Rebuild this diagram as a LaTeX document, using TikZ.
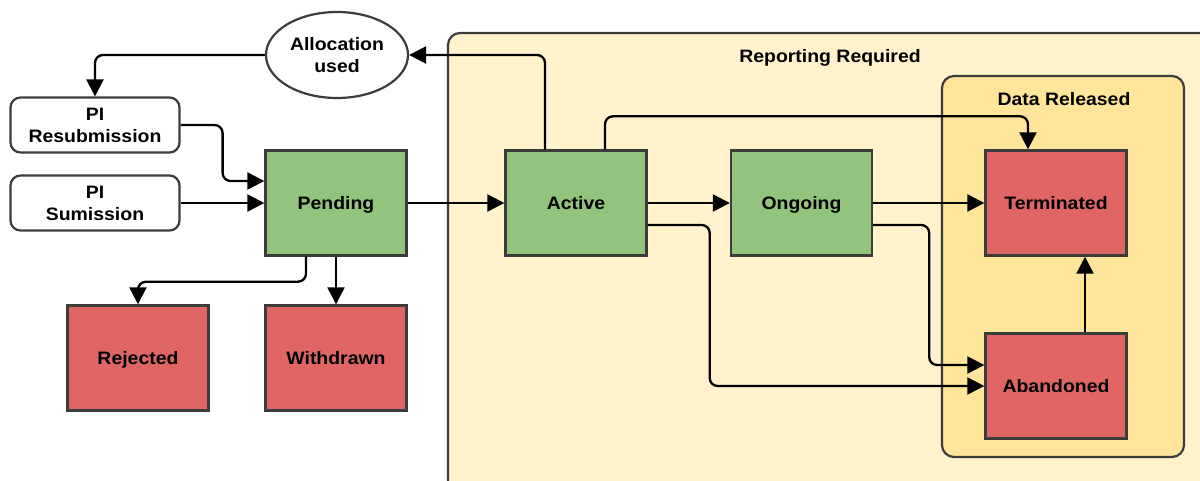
\documentclass[tikz,border=0pt]{standalone}
\usepackage{fontspec}
\setmainfont{Liberation Sans}[FakeStretch=1.08]
\usetikzlibrary{arrows.meta,shapes.geometric}
\definecolor{gfill}{HTML}{93C47D}
\definecolor{rfill}{HTML}{E06666}
\definecolor{repfill}{HTML}{FFF2CC}
\definecolor{datafill}{HTML}{FFE599}
\definecolor{edgegray}{HTML}{3C3C3C}
\begin{document}
\begin{tikzpicture}[x=1pt,y=-1pt,
  every node/.style={font=\fontsize{18}{22}\selectfont\bfseries},
  oneline/.style={text height=13pt,text depth=0pt},
  statebox/.style={oneline,draw=edgegray,line width=2.4pt,minimum width=141pt,minimum height=105pt,inner sep=0pt},
  goodbox/.style={statebox,fill=gfill},
  badbox/.style={statebox,fill=rfill},
  subbox/.style={draw=edgegray,line width=2.2pt,fill=white,rounded corners=10pt,minimum width=169pt,minimum height=55pt,align=center,inner sep=0pt},
  arr/.style={draw=black,line width=2.3pt,rounded corners=8pt,-{Triangle[length=17pt,width=17pt]}},
  group/.style={draw=edgegray,line width=2.2pt,rounded corners=12pt}
]
\useasboundingbox (0,0) rectangle (1200,480);
\begin{scope}
\clip (0,0) rectangle (1200,480);
\fill[white] (0,0) rectangle (1200,480);
\draw[group,fill=repfill] (448,33) rectangle (1220,500);
\end{scope}
\draw[group,fill=datafill] (942,76) rectangle (1184,457);
\node[oneline] (reptitle) at (830,56) {Reporting Required};
\node[oneline] (datatitle) at (1064,99) {Data Released};

\node[draw=edgegray,line width=2.2pt,fill=white,ellipse,minimum width=142pt,minimum height=86pt,align=center,inner sep=0pt] (alloc) at (337,55) {Allocation\\used};
\node[subbox] (resub) at (95,125) {PI\\Resubmission};
\node[subbox] (sub) at (95,203) {PI\\Sumission};

\node[goodbox] (pending) at (336,203) {Pending};
\node[goodbox] (active) at (576,203) {Active};
\node[goodbox] (ongoing) at (801.5,203) {Ongoing};
\node[badbox] (terminated) at (1056,203) {Terminated};
\node[badbox] (abandoned) at (1056,386) {Abandoned};
\node[badbox] (rejected) at (138,358) {Rejected};
\node[badbox] (withdrawn) at (336,358) {Withdrawn};

\draw[arr] ([xshift=-31pt]active.north) |- (alloc.east);
\draw[arr] (alloc.west) -| (resub.north);
\draw[arr] (resub.east) -- ++(42,0) |- ([yshift=22pt]pending.west);
\draw[arr] (sub.east) -- (pending.west);
\draw[arr] (pending.east) -- (active.west);
\draw[arr] (active.east) -- (ongoing.west);
\draw[arr] (ongoing.east) -- (terminated.west);
\draw[arr] ([xshift=29pt]active.north) -- ++(0,-33) -| ([xshift=-28pt]terminated.north);
\draw[arr] ([yshift=-22pt]active.east) -- ++(62,0) |- (abandoned.west);
\draw[arr] ([yshift=-22pt]ongoing.east) -- ++(56,0) |- ([yshift=21pt]abandoned.west);
\draw[arr] ([xshift=29pt]abandoned.north) -- ([xshift=29pt]terminated.south);
\draw[arr] ([xshift=-30pt]pending.south) -- ++(0,25) -| (rejected.north);
\draw[arr] (pending.south) -- (withdrawn.north);
\end{tikzpicture}
\end{document}
